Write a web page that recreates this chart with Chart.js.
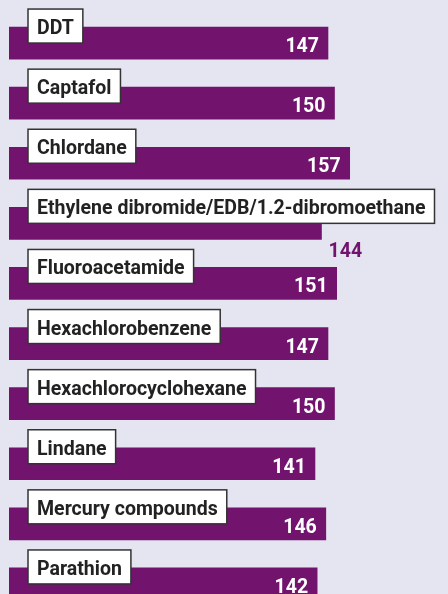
<!DOCTYPE html>
<html>
<head>
<meta charset="utf-8">
<script src="https://cdn.jsdelivr.net/npm/chart.js@4.4.0/dist/chart.umd.min.js"></script>
<style>
    html, body {
        margin: 0;
        padding: 0;
        background: #e5e5f1;
        overflow: hidden;
    }
    #wrap {
        width: 448px;
        height: 594px;
        overflow: hidden;
    }
</style>
</head>
<body>
<div id="wrap">
    <canvas id="pesticideChart" width="448" height="620"></canvas>
</div>
<script>
const substances = ['DDT', 'Captafol', 'Chlordane', 'Ethylene dibromide/EDB/1.2-dibromoethane',
    'Fluoroacetamide', 'Hexachlorobenzene', 'Hexachlorocyclohexane', 'Lindane',
    'Mercury compounds', 'Parathion'];
const counts = [147, 150, 157, 144, 151, 147, 150, 141, 146, 142];

const barColor = '#72146e';
const labelFont = 'bold 21px "Roboto", sans-serif';
const squeeze = 0.93; // narrow the lettering a little

function condensedText(ctx, text, x, y, align) {
    ctx.save();
    ctx.translate(x, y);
    ctx.scale(squeeze, 1);
    ctx.textAlign = align;
    ctx.fillText(text, 0, 0);
    ctx.restore();
}

// Name boxes sit over the left of each bar, counts at the bar's right end
const barLabels = {
    id: 'barLabels',
    afterDatasetsDraw(chart) {
        const ctx = chart.ctx;
        const bars = chart.getDatasetMeta(0).data;
        ctx.save();
        ctx.font = labelFont;
        ctx.textBaseline = 'alphabetic';
        bars.forEach((bar, i) => {
            const top = bar.y - bar.height / 2;
            const bottom = bar.y + bar.height / 2;
            const name = substances[i];
            const boxX = chart.chartArea.left + 19;
            const boxY = top - 18;
            const boxW = ctx.measureText(name).width * squeeze + 18;
            const boxH = 34;

            ctx.fillStyle = '#ffffff';
            ctx.fillRect(boxX, boxY, boxW, boxH);
            ctx.strokeStyle = '#333333';
            ctx.lineWidth = 1.5;
            ctx.strokeRect(boxX, boxY, boxW, boxH);

            ctx.fillStyle = '#222222';
            condensedText(ctx, name, boxX + 9, boxY + 25, 'left');

            const value = String(counts[i]);
            const valW = ctx.measureText(value).width * squeeze;
            if (boxX + boxW + valW + 14 > bar.x) {
                // no room inside the bar, put the count just below its end
                ctx.fillStyle = barColor;
                condensedText(ctx, value, bar.x + 7, bottom + 18, 'left');
            } else {
                ctx.fillStyle = '#ffffff';
                condensedText(ctx, value, bar.x - 9, bottom - 7, 'right');
            }
        });
        ctx.restore();
    }
};

const ctx = document.getElementById('pesticideChart').getContext('2d');
new Chart(ctx, {
    type: 'bar',
    data: {
        labels: substances,
        datasets: [{
            data: counts,
            backgroundColor: barColor,
            borderWidth: 0,
            barThickness: 32
        }]
    },
    options: {
        indexAxis: 'y',
        responsive: false,
        animation: false,
        layout: {
            padding: { left: 9, right: 5, top: 13, bottom: 6 }
        },
        scales: {
            x: { display: false, min: 0, max: 200 },
            y: { display: false }
        },
        plugins: {
            legend: { display: false },
            tooltip: { enabled: false }
        }
    },
    plugins: [barLabels]
});
</script>
</body>
</html>
